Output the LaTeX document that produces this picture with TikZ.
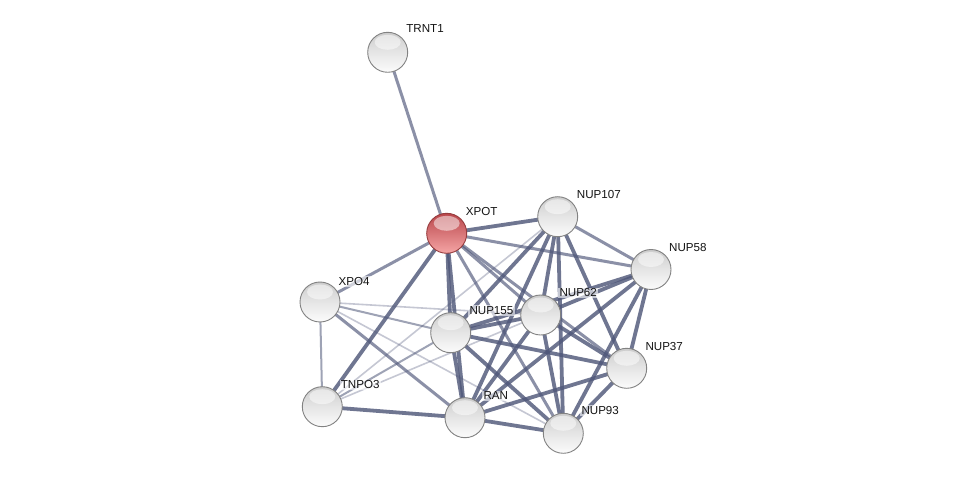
\documentclass[tikz,border=0pt]{standalone}
\usepackage{fontspec}
\setmainfont{Liberation Sans}
\usetikzlibrary{calc}
\pgfdeclarelayer{bottom}
\pgfdeclarelayer{background}
\pgfsetlayers{bottom,background,main}
\definecolor{edgec}{RGB}{80,88,122}
\definecolor{ballrim}{RGB}{130,130,130}
\definecolor{redrim}{RGB}{150,60,62}
\tikzset{
  sball/.style={circle, minimum size=40pt, inner sep=0pt, draw=ballrim, line width=0.9pt,
    top color=gray!40, bottom color=white!97!gray, middle color=gray!20,
    path picture={\fill[white, opacity=.5] ($(path picture bounding box.north)+(0pt,-10pt)$) ellipse [x radius=13pt, y radius=7.5pt];}},
  rball/.style={sball, draw=redrim, top color={rgb,255:red,185;green,70;blue,75},
    middle color={rgb,255:red,215;green,105;blue,108}, bottom color={rgb,255:red,245;green,165;blue,165}},
  lbl/.style={anchor=west, inner sep=1.2pt, fill=white, fill opacity=0.6, text opacity=1,
    font=\fontsize{11.6}{13}\selectfont, text={rgb,255:red,20;green,20;blue,20}},
  ethick/.style={draw=edgec, line width=3.8pt, draw opacity=0.82},
  emed/.style={draw=edgec, line width=3pt, draw opacity=0.66},
  ethin/.style={draw=edgec, line width=2pt, draw opacity=0.55},
  elight/.style={draw=edgec, line width=1.6pt, draw opacity=0.33}
}
\begin{document}
\begin{tikzpicture}[x=1pt,y=-1pt]
\useasboundingbox (0,0) rectangle (975,478);
\begin{pgfonlayer}{bottom}
\fill[white] (0,0) rectangle (975,478);
\end{pgfonlayer}
% nodes
\node[sball] (TRNT1) at (387.7,52.3) {};
\node[rball] (XPOT) at (446.7,233.3) {};
\node[sball] (NUP107) at (557.7,216.7) {};
\node[sball] (NUP58) at (651,269.5) {};
\node[sball] (XPO4) at (320,302) {};
\node[sball] (NUP62) at (540.7,315) {};
\node[sball] (NUP155) at (450.7,332.7) {};
\node[sball] (NUP37) at (626.7,368.3) {};
\node[sball] (TNPO3) at (322.3,406.7) {};
\node[sball] (RAN) at (465,417.7) {};
\node[sball] (NUP93) at (563.3,433.3) {};
% labels
\node[lbl] (TRNT1l) at ($(TRNT1)+(17.3,-23.5)$) {TRNT1};
\node[lbl] (XPOTl) at ($(XPOT)+(17.8,-21.5)$) {XPOT};
\node[lbl] (NUP107l) at ($(NUP107)+(17.8,-22)$) {NUP107};
\node[lbl] (NUP58l) at ($(NUP58)+(16.8,-22)$) {NUP58};
\node[lbl] (XPO4l) at ($(XPO4)+(17.3,-20.5)$) {XPO4};
\node[lbl] (NUP62l) at ($(NUP62)+(17.4,-22)$) {NUP62};
\node[lbl] (NUP155l) at ($(NUP155)+(17.4,-22)$) {NUP155};
\node[lbl] (NUP37l) at ($(NUP37)+(17.4,-22)$) {NUP37};
\node[lbl] (TNPO3l) at ($(TNPO3)+(17.2,-21.7)$) {TNPO3};
\node[lbl] (RANl) at ($(RAN)+(17.1,-21.7)$) {RAN};
\node[lbl] (NUP93l) at ($(NUP93)+(16.8,-22.5)$) {NUP93};
% edges
\begin{pgfonlayer}{background}
\draw[emed] (XPOT.center) -- (TRNT1.center);
\draw[ethick] (XPOT.center) -- (NUP107.center);
\draw[emed] (XPOT.center) -- (NUP58.center);
\draw[emed] (XPOT.center) -- (NUP62.center);
\draw[emed] (XPOT.center) -- (NUP37.center);
\draw[emed] (XPOT.center) -- (NUP93.center);
\draw[ethick] (XPOT.center) -- (NUP155.center);
\draw[ethick] (XPOT.center) -- (RAN.center);
\draw[emed] (XPOT.center) -- (XPO4.center);
\draw[ethick] (XPOT.center) -- (TNPO3.center);
\draw[ethin] (XPO4.center) -- (TNPO3.center);
\draw[elight] (XPO4.center) -- (NUP62.center);
\draw[ethin] (XPO4.center) -- (NUP155.center);
\draw[emed] (XPO4.center) -- (RAN.center);
\draw[elight] (XPO4.center) -- (NUP93.center);
\draw[ethick] (TNPO3.center) -- (RAN.center);
\draw[ethin] (TNPO3.center) -- (NUP155.center);
\draw[elight] (TNPO3.center) -- (NUP62.center);
\draw[elight] (TNPO3.center) -- (NUP107.center);
\draw[emed] (NUP107.center) -- (NUP58.center);
\draw[ethick] (NUP107.center) -- (NUP62.center);
\draw[ethick] (NUP107.center) -- (NUP155.center);
\draw[ethick] (NUP107.center) -- (NUP37.center);
\draw[ethick] (NUP107.center) -- (NUP93.center);
\draw[ethick] (NUP107.center) -- (RAN.center);
\draw[ethick] (NUP58.center) -- (NUP62.center);
\draw[ethick] (NUP58.center) -- (NUP155.center);
\draw[ethick] (NUP58.center) -- (NUP37.center);
\draw[ethick] (NUP58.center) -- (NUP93.center);
\draw[ethick] (NUP58.center) -- (RAN.center);
\draw[ethick] (NUP62.center) -- (NUP155.center);
\draw[ethick] (NUP62.center) -- (NUP37.center);
\draw[ethick] (NUP62.center) -- (NUP93.center);
\draw[ethick] (NUP62.center) -- (RAN.center);
\draw[ethick] (NUP155.center) -- (NUP37.center);
\draw[ethick] (NUP155.center) -- (NUP93.center);
\draw[ethick] (NUP155.center) -- (RAN.center);
\draw[ethick] (NUP37.center) -- (NUP93.center);
\draw[ethick] (NUP37.center) -- (RAN.center);
\draw[ethick] (NUP93.center) -- (RAN.center);
\end{pgfonlayer}
\end{tikzpicture}
\end{document}
